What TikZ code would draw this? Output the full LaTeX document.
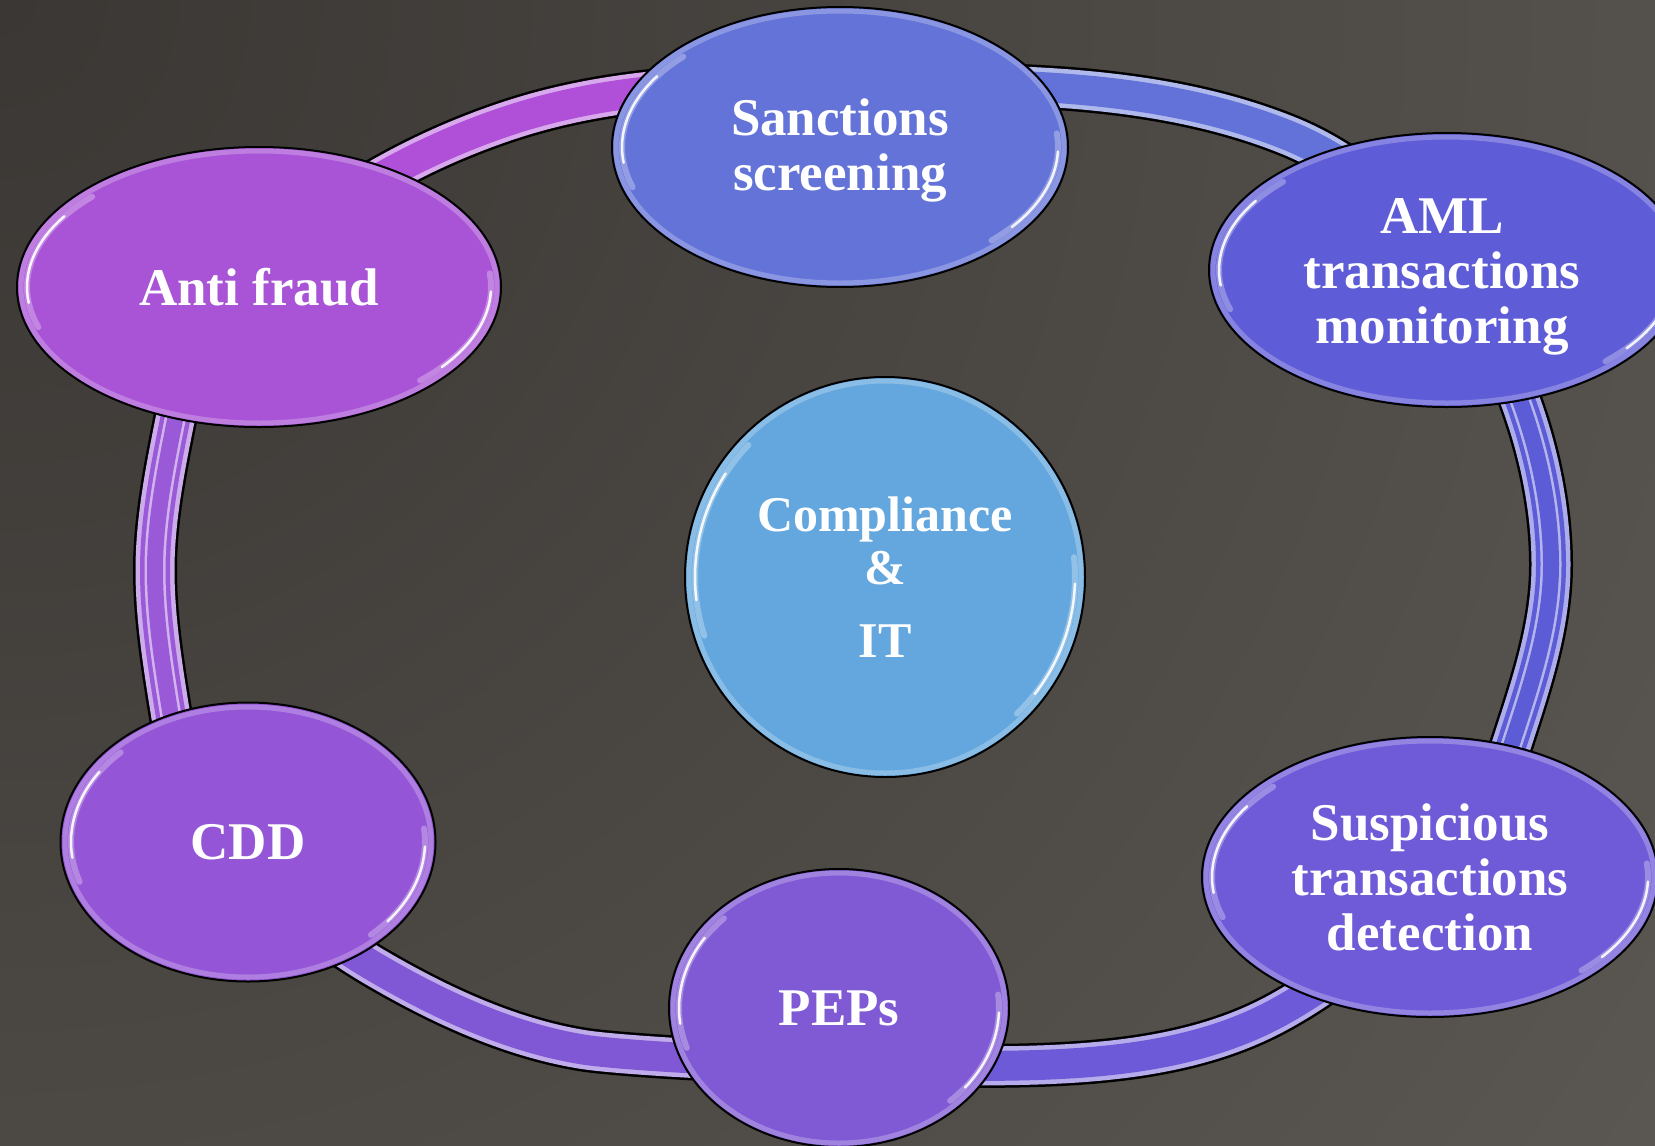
\documentclass[tikz,border=0pt]{standalone}
\usepackage{fontspec}
\setmainfont{Liberation Serif}
\usetikzlibrary{shapes.geometric}
\definecolor{bgA}{HTML}{3A3734}
\definecolor{bgB}{HTML}{4A4642}
\definecolor{bgC}{HTML}{5A5652}
\definecolor{bgD}{HTML}{6A645E}
\definecolor{bgE}{HTML}{7C736B}
\definecolor{cSan}{HTML}{6373D7}
\definecolor{cAml}{HTML}{5E5CD6}
\definecolor{cSus}{HTML}{6F5BD8}
\definecolor{cPep}{HTML}{8059D5}
\definecolor{cCdd}{HTML}{9455D6}
\definecolor{cAnt}{HTML}{A953D6}
\definecolor{cCen}{HTML}{63A7DE}
\definecolor{rAnt}{HTML}{B050D8}
\definecolor{rSan}{HTML}{6272D8}
\definecolor{rAml}{HTML}{5C5CD6}
\definecolor{rSus}{HTML}{6C5AD8}
\definecolor{rPep}{HTML}{8058D5}
\definecolor{rCdd}{HTML}{9A5AD8}
\pgfdeclareradialshading{bgrad}{\pgfpoint{0bp}{0bp}}{color(0bp)=(bgA); color(11.9bp)=(bgB); color(23.8bp)=(bgC); color(35.7bp)=(bgD); color(47.6bp)=(bgE); color(50bp)=(bgE)}
\newcommand\bubfont{\bfseries\fontsize{53}{55}\selectfont}
\newcommand\cenfont{\bfseries\fontsize{50}{53}\selectfont}
\newcommand\ringpath{(900,84) .. controls (1030,84) and (1166.4,86.8) .. (1287,135)
  .. controls (1442.9,197.3) and (1551,397) .. (1551,565)
  .. controls (1551,626) and (1530.9,685) .. (1512,743)
  .. controls (1475.1,856) and (1383.2,954.6) .. (1279,1012)
  .. controls (1181.8,1065.5) and (1061,1066) .. (950,1066)
  .. controls (800,1066) and (622.5,1055.9) .. (583,1049.5)
  .. controls (509,1037.5) and (437.5,1004) .. (373,966)
  .. controls (281,911.4) and (188.1,822.6) .. (171,717)
  .. controls (163.2,668.6) and (155,619) .. (155,570)
  .. controls (155,520) and (165.2,469) .. (175,420)
  .. controls (205,270) and (374,162.3) .. (520,117)
  .. controls (641.3,79.4) and (773,84) .. (900,84) -- cycle}
\newcommand\ringseg[3]{%
  \begin{scope}
    \clip (853,575) -- #1 -- #2 -- cycle;
    \draw[ringout] \ringpath;
    \draw[ringrim, #3!50!white] \ringpath;
    \draw[ringcore, #3] \ringpath;
  \end{scope}}
\newcommand\ringstripes[2]{%
  \begin{scope}
    \clip #1;
    \draw[white, opacity=.55, line width=21pt, line join=round] \ringpath;
    \draw[#2, line width=16pt, line join=round] \ringpath;
  \end{scope}}
\newcommand\glarc[6]{%
  \pgfmathsetmacro\glX{#2*cos(#4)}\pgfmathsetmacro\glY{#3*sin(#4)}%
  \draw[#6] (#1.center) ++(\glX,\glY) arc[start angle=#4, end angle=#5, x radius=#2, y radius=#3];}
\newcommand\gloss[4]{%
  \pgfmathsetmacro\glA{#2-4}\pgfmathsetmacro\glB{#3-4}%
  \draw[#4!50!white, line width=5pt, opacity=.5] (#1.center) ellipse [x radius=\glA, y radius=\glB];
  \pgfmathsetmacro\glA{#2-10}\pgfmathsetmacro\glB{#3-10}%
  \glarc{#1}{\glA}{\glB}{-136}{-198}{glosswide}
  \glarc{#1}{\glA}{\glB}{-147}{-187}{glossthin}
  \glarc{#1}{\glA}{\glB}{46}{-6}{glosswide}
  \glarc{#1}{\glA}{\glB}{38}{2}{glossthin}}
\tikzset{
  ringout/.style={line width=44pt, black, line join=round},
  ringrim/.style={line width=39pt, line join=round},
  ringcore/.style={line width=30pt, line join=round},
  bub/.style={ellipse, draw=black, line width=2pt, inner sep=0pt, outer sep=0pt,
    text=white, align=center, font=\bubfont},
  lbl/.style={inner sep=0pt, text=white, align=center, font=\bubfont},
  glosswide/.style={white, line width=6pt, opacity=.3, line cap=round},
  glossthin/.style={white, line width=2.5pt, opacity=.9, line cap=round}
}
\begin{document}
\begin{tikzpicture}[x=1pt, y=-1pt]
\useasboundingbox (0,0) rectangle (1655,1146);
\clip (0,0) rectangle (1655,1146);
\fill[bgE] (0,0) rectangle (1655,1146);
\shade[shading=bgrad] (0,0) circle [radius=2100];
% ring, one coloured segment per pair of neighbouring nodes
\ringseg{(-929,-289)}{(814,-709)}{rAnt}
\ringseg{(814,-709)}{(2635,-340)}{rSan}
\ringseg{(2635,-340)}{(2584,1481)}{rAml}
\ringseg{(2584,1481)}{(811,1874)}{rSus}
\ringseg{(811,1874)}{(-962,1376)}{rPep}
\ringseg{(-962,1376)}{(-929,-289)}{rCdd}
\ringstripes{(0,300) rectangle (260,800)}{rCdd}
\ringstripes{(1440,330) rectangle (1655,800)}{rAml}
% nodes
\node[bub, fill=cSan, minimum width=456, minimum height=280] (san) at (840,147) {};
\node[lbl] (sanT) at (840,150) {Sanctions\\screening};
\node[bub, fill=cAml, minimum width=476, minimum height=274] (aml) at (1447,270) {};
\node[lbl] (amlT) at (1442,277) {AML\\transactions\\monitoring};
\node[bub, fill=cSus, minimum width=456, minimum height=280] (sus) at (1430,877) {Suspicious\\transactions\\detection};
\node[bub, fill=cPep, minimum width=340, minimum height=278] (pep) at (839,1008) {PEPs};
\node[bub, fill=cCdd, minimum width=375, minimum height=279] (cdd) at (248,842) {CDD};
\node[bub, fill=cAnt, minimum width=484, minimum height=280] (ant) at (259,287) {Anti fraud};
\node[bub, circle, fill=cCen, minimum size=400, font=\cenfont] (cen) at (885,577) {Compliance\\\&\\[20pt]IT};
\gloss{san}{228}{140}{cSan}
\gloss{aml}{238}{137}{cAml}
\gloss{sus}{228}{140}{cSus}
\gloss{pep}{170}{139}{cPep}
\gloss{cdd}{187}{139}{cCdd}
\gloss{ant}{242}{140}{cAnt}
\gloss{cen}{200}{200}{cCen}
\end{tikzpicture}
\end{document}
